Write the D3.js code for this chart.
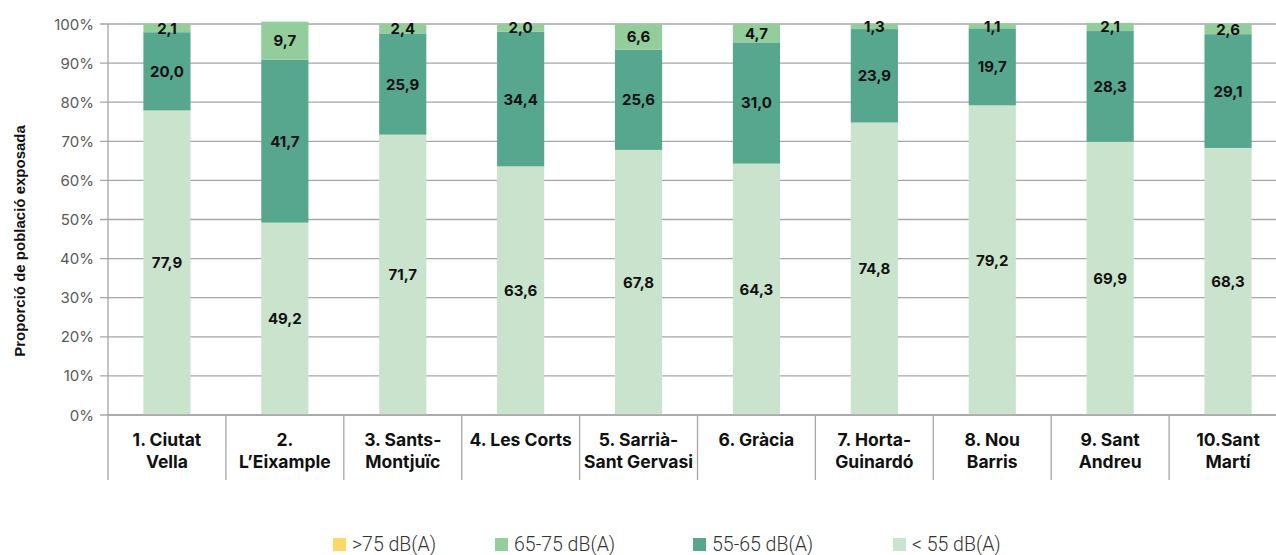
<!DOCTYPE html>
<html>
<head>
<meta charset="utf-8">
<script src="https://cdn.jsdelivr.net/npm/d3@7"></script>
<style>
  body { margin: 0; background: #fff; }
  svg { font-family: Inter, Roboto, "Noto Sans", sans-serif; display: block; }
</style>
</head>
<body>
<svg id="chart" width="1276" height="555"></svg>
<script>
const districts = [
  ["1. Ciutat", "Vella"], ["2.", "L’Eixample"], ["3. Sants-", "Montjuïc"], ["4. Les Corts"],
  ["5. Sarrià-", "Sant Gervasi"], ["6. Gràcia"], ["7. Horta-", "Guinardó"], ["8. Nou", "Barris"],
  ["9. Sant", "Andreu"], ["10.Sant", "Martí"]
];
const below55 = [77.9, 49.2, 71.7, 63.6, 67.8, 64.3, 74.8, 79.2, 69.9, 68.3];
const from55to65 = [20.0, 41.7, 25.9, 34.4, 25.6, 31.0, 23.9, 19.7, 28.3, 29.1];
const from65to75 = [2.1, 9.7, 2.4, 2.0, 6.6, 4.7, 1.3, 1.1, 2.1, 2.6];
const above75 = [0, 0, 0, 0, 0, 0, 0, 0, 0, 0];
const yTicks = [0, 10, 20, 30, 40, 50, 60, 70, 80, 90, 100];

const seriesKeys = ["b55", "b65", "b75", "a75"];
const seriesLabels = ["< 55 dB(A)", "55-65 dB(A)", "65-75 dB(A)", ">75 dB(A)"];
const colors = { b55: "#c9e3cc", b65: "#57a68e", b75: "#93cd9c", a75: "#fdd868" };

const rows = districts.map((d, i) => ({
  name: i, b55: below55[i], b65: from55to65[i], b75: from65to75[i], a75: above75[i]
}));

const svg = d3.select("#chart");
const mLeft = 108, mRight = 1287, mTop = 24, mBottom = 415;

const x = d3.scaleBand().domain(d3.range(districts.length)).range([mLeft, mRight]).paddingInner(0).paddingOuter(0);
const y = d3.scaleLinear().domain([0, 100]).range([mBottom, mTop]);
const barW = x.bandwidth() * 0.4;

// gridlines + ticks
svg.append("g")
  .selectAll("line")
  .data(yTicks)
  .join("line")
  .attr("x1", mLeft - 8).attr("x2", 1276)
  .attr("y1", d => y(d)).attr("y2", d => y(d))
  .attr("stroke", "#a6a6a6").attr("stroke-width", 1.3);

svg.append("g")
  .selectAll("text")
  .data(yTicks)
  .join("text")
  .attr("x", mLeft - 14).attr("y", d => y(d))
  .attr("text-anchor", "end").attr("dominant-baseline", "central")
  .attr("font-size", 15).attr("fill", "#595959")
  .text(d => d + "%");

// stacked bars
const stack = d3.stack().keys(seriesKeys)(rows);
const layers = svg.append("g").selectAll("g")
  .data(stack)
  .join("g")
  .attr("fill", d => colors[d.key]);

layers.selectAll("rect")
  .data(d => d)
  .join("rect")
  .attr("x", d => x(d.data.name) + (x.bandwidth() - barW) / 2)
  .attr("width", barW)
  .attr("y", d => y(d[1]))
  .attr("height", d => y(d[0]) - y(d[1]));

// value labels
const labelLayers = stack.filter(s => s.key !== "a75");
svg.append("g").selectAll("g")
  .data(labelLayers)
  .join("g")
  .selectAll("text")
  .data(d => d)
  .join("text")
  .attr("x", d => x(d.data.name) + x.bandwidth() / 2)
  .attr("y", d => y((d[0] + d[1]) / 2))
  .attr("text-anchor", "middle").attr("dominant-baseline", "central")
  .attr("font-size", 15).attr("font-weight", 700).attr("fill", "#111")
  .text(d => d3.format(".1f")(d[1] - d[0]).replace(".", ","));

// x axis
svg.append("line")
  .attr("x1", mLeft).attr("x2", 1276).attr("y1", mBottom).attr("y2", mBottom)
  .attr("stroke", "#a6a6a6").attr("stroke-width", 1.3);
svg.append("g")
  .selectAll("line")
  .data(d3.range(districts.length + 1))
  .join("line")
  .attr("x1", i => mLeft + i * x.step()).attr("x2", i => mLeft + i * x.step())
  .attr("y1", i => i === 0 ? mTop : mBottom).attr("y2", 480)
  .attr("stroke", "#a6a6a6").attr("stroke-width", 1.3);

const catText = svg.append("g").selectAll("text")
  .data(districts)
  .join("text")
  .attr("x", (d, i) => x(i) + x.bandwidth() / 2)
  .attr("y", 440)
  .attr("text-anchor", "middle")
  .attr("font-size", 17.5).attr("font-weight", 700).attr("fill", "#111");
catText.selectAll("tspan")
  .data(d => d)
  .join("tspan")
  .attr("x", function () { return this.parentNode.getAttribute("x"); })
  .attr("dy", (d, i) => i === 0 ? "0.35em" : "22px")
  .text(d => d);

// y axis title
svg.append("text")
  .attr("transform", `translate(19, 241) rotate(-90)`)
  .attr("text-anchor", "middle").attr("dominant-baseline", "central")
  .attr("font-family", "'Liberation Sans', Arial, sans-serif")
  .attr("font-size", 15).attr("font-weight", 700).attr("fill", "#111")
  .text("Proporció de població exposada");

// legend
const legendOrder = [3, 2, 1, 0];
const legendX = [333, 495, 693, 893];
const lg = svg.append("g").selectAll("g")
  .data(legendOrder)
  .join("g")
  .attr("transform", (d, i) => `translate(${legendX[i]}, 544)`);
lg.append("rect")
  .attr("x", 0).attr("y", -6).attr("width", 13).attr("height", 13)
  .attr("fill", d => colors[seriesKeys[d]]);
lg.append("text")
  .attr("x", 19).attr("y", 0)
  .attr("dominant-baseline", "central")
  .attr("font-family", "Roboto, sans-serif")
  .attr("font-size", 19.5).attr("font-weight", 300).attr("fill", "#333")
  .text(d => seriesLabels[d]);
</script>
</body>
</html>
